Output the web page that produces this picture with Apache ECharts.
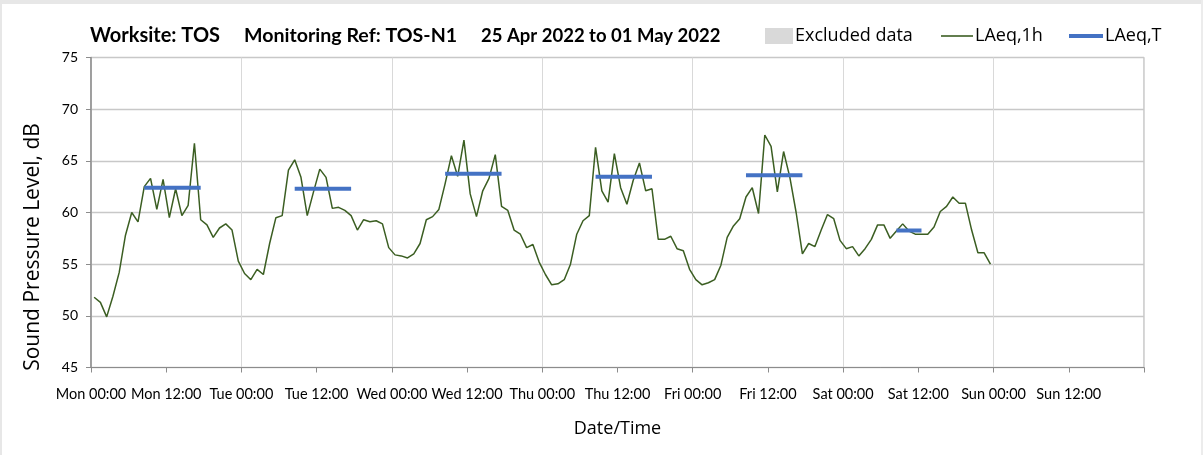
<!DOCTYPE html>
<html><head><meta charset="utf-8">
<script src="https://cdn.jsdelivr.net/npm/echarts@6/dist/echarts.min.js"></script>
<style>html,body{margin:0;padding:0;background:#fff;}#c{width:1203px;height:455px;}</style>
</head><body><div id="c"></div>
<script>
// Tick labels every 12 hours (x in hours from Mon 00:00)
const tickLabels = ["Mon 00:00","Mon 12:00","Tue 00:00","Tue 12:00","Wed 00:00","Wed 12:00","Thu 00:00","Thu 12:00","Fri 00:00","Fri 12:00","Sat 00:00","Sat 12:00","Sun 00:00","Sun 12:00"];
// Hourly LAeq,1h values, plotted at the middle of each hour (hour index + 0.5)
const laeq1h = [
 51.8,51.3,49.9,51.9,54.2,57.8,60.0,59.1,62.5,63.3,60.3,63.2,59.5,62.3,59.7,60.7,66.7,59.3,58.8,57.6,58.5,58.9,58.3,55.3,
 54.1,53.5,54.5,54.0,57.0,59.5,59.7,64.1,65.1,63.4,59.7,62.0,64.2,63.4,60.4,60.5,60.2,59.7,58.3,59.3,59.1,59.2,58.9,56.6,
 55.9,55.8,55.6,56.0,57.0,59.3,59.6,60.3,62.8,65.5,63.5,67.0,61.8,59.6,62.1,63.3,65.6,60.6,60.2,58.3,57.9,56.6,56.9,55.2,
 54.0,53.0,53.1,53.5,55.0,57.9,59.2,59.7,66.3,62.1,61.0,65.7,62.4,60.8,63.1,64.8,62.1,62.3,57.4,57.4,57.7,56.5,56.3,54.5,
 53.5,53.0,53.2,53.5,54.9,57.6,58.7,59.4,61.5,62.4,59.9,67.5,66.4,62.0,65.9,63.4,60.0,56.0,57.0,56.7,58.3,59.8,59.4,57.3,
 56.5,56.7,55.8,56.5,57.4,58.8,58.8,57.5,58.2,58.9,58.2,57.9,57.9,57.9,58.6,60.1,60.6,61.5,60.9,60.9,58.3,56.1,56.1,55.0
];
// LAeq,T periods: start hour, end hour, level
const periodStart = [8.5, 32.5, 56.5, 80.5, 104.5, 128.5];
const periodEnd   = [17.5, 41.5, 65.5, 89.5, 113.5, 132.5];
const periodLevel = [62.4, 62.3, 63.75, 63.45, 63.6, 58.25];

const FONT = 'Lato';
const SANS = 'Open Sans';
const green = '#3b5e22', blue = '#4472c4';

const series = [
  {name:'Excluded data', type:'line', data:[], itemStyle:{color:'#d9d9d9'}, lineStyle:{color:'#d9d9d9'}, symbol:'none'},
  {name:'LAeq,1h', type:'line', symbol:'none', data: laeq1h.map((v,i)=>[i+0.5, v]),
   lineStyle:{color:green, width:1.5}, itemStyle:{color:green}, z:3}
];
periodStart.forEach((s,k)=>{
  series.push({name:'LAeq,T', type:'line', symbol:'none',
    data:[[s, periodLevel[k]],[periodEnd[k], periodLevel[k]]],
    lineStyle:{color:blue, width:4}, itemStyle:{color:blue}, z:4});
});

const legendText = {fontFamily:SANS, fontSize:18, color:'#000', padding:[0,0,0,-3]};
const chart = echarts.init(document.getElementById('c'), null, {renderer:'canvas'});
chart.setOption({
  animation:false,
  textStyle:{fontFamily:FONT},
  grid:{left:91, right:59, top:57.5, bottom:87.5, show:true, borderColor:'#a6a6a6', borderWidth:1, backgroundColor:'#fff'},
  legend:[
    {left:760, top:22, itemWidth:28, itemHeight:16, textStyle:legendText,
     data:[{name:'Excluded data', icon:'rect'}]},
    {left:936, top:22, itemWidth:32, itemHeight:16, textStyle:legendText,
     data:[{name:'LAeq,1h', icon:'path://M0,0L32,0L32,1.6L0,1.6Z'}]},
    {left:1064, top:22, itemWidth:34, itemHeight:16, textStyle:legendText,
     data:[{name:'LAeq,T', icon:'path://M0,0L34,0L34,4L0,4Z'}]}
  ],
  xAxis:[
    {type:'value', min:0, max:168, interval:12,
     name:'Date/Time', nameLocation:'middle', nameGap:52,
     nameTextStyle:{fontFamily:SANS, fontSize:18, color:'#000'},
     axisLine:{show:true, lineStyle:{color:'#8c8c8c', width:1}},
     axisTick:{show:true, length:5, lineStyle:{color:'#8c8c8c'}},
     axisLabel:{margin:19, fontFamily:FONT, fontSize:14.5, color:'#000',
       formatter:(v)=>{const i=Math.round(v/12); return i<tickLabels.length? tickLabels[i] : '';}},
     splitLine:{show:false}},
    {type:'value', min:0, max:168, interval:24, position:'bottom',
     axisLine:{show:false}, axisTick:{show:false}, axisLabel:{show:false},
     splitLine:{show:true, lineStyle:{color:'#d9d9d9', width:1}}}
  ],
  yAxis:{type:'value', min:45, max:75, interval:5,
    axisLine:{show:true, lineStyle:{color:'#8c8c8c', width:1.5}},
    axisTick:{show:true, length:5, lineStyle:{color:'#8c8c8c'}},
    axisLabel:{margin:13, fontFamily:FONT, fontSize:14, color:'#000'},
    splitLine:{show:true, lineStyle:{color:'#c8c8c8', width:1.3}}},
  graphic:[
    {type:'rect', left:0, top:0, shape:{width:1203, height:4}, style:{fill:'#e7e7e7'}, silent:true},
    {type:'rect', left:0, top:0, shape:{width:2, height:455}, style:{fill:'#e7e7e7'}, silent:true},
    {type:'rect', left:1201, top:0, shape:{width:2, height:455}, style:{fill:'#ececec'}, silent:true},
    {type:'text', left:90, top:26, style:{text:'Worksite: TOS', font:'bold 20px Lato', fill:'#000'}},
    {type:'text', left:244, top:26, style:{text:'Monitoring Ref: TOS-N1', font:'bold 19.6px Lato', fill:'#000'}},
    {type:'text', left:481, top:26.5, style:{text:'25 Apr 2022 to 01 May 2022', font:'bold 18.5px Lato', fill:'#000'}},
    {type:'text', x:33, y:247, rotation:Math.PI/2,
     style:{text:'Sound Pressure Level, dB', font:'21px "Open Sans"', fill:'#000', textAlign:'center', textVerticalAlign:'middle'}}
  ],
  series: series
});
</script></body></html>
